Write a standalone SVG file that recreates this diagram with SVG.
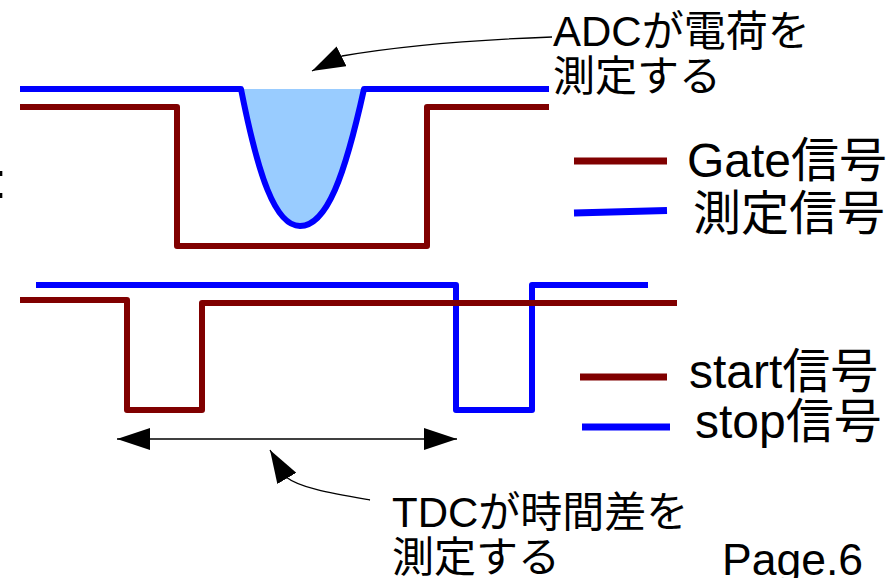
<svg xmlns="http://www.w3.org/2000/svg" width="886" height="578" viewBox="0 0 886 578">
<style>
.sig{fill:none;stroke-width:6;stroke-linejoin:round;stroke-linecap:butt}
.gate{stroke:#800000}
.meas{stroke:#0000ff}
.leg{fill:none;stroke-width:7;stroke-linecap:butt}
.lab{font-family:"Liberation Sans","Noto Sans CJK JP",sans-serif;fill:#000}
.lg{font-size:48px}
.nt{font-size:42px}
.call{fill:none;stroke:#000;stroke-width:1.3}
</style>
<defs>
<marker id="ah" viewBox="0 0 33 22" refX="33" refY="11" markerWidth="33" markerHeight="22" markerUnits="userSpaceOnUse" orient="auto-start-reverse"><path d="M0,0L33,11L0,22z" fill="#000"/></marker>
</defs>
<rect width="886" height="578" fill="#fff"/>
<g id="adc-panel">
<path fill="#99ccff" d="M241,89 C258,175 275,226 300,226 C327,226 345,175 364,89 Z"/>
<path class="sig meas" d="M20,89 H241 C258,175 275,226 300,226 C327,226 345,175 364,89 H549"/>
<path class="sig gate" d="M20,107 H177 V246 H427 V107 H549"/>
</g>
<g id="tdc-panel">
<path class="sig meas" d="M36,285 H456 V410 H532 V285 H648"/>
<path class="sig gate" d="M20,300 H127 V410 H202 V303 H677"/>
</g>
<g id="legend-adc">
<line class="leg gate" x1="574" y1="161" x2="667" y2="161"/>
<line class="leg meas" x1="574" y1="213" x2="667" y2="210.5"/>
<text class="lab lg" x="687" y="177">Gate信号</text>
<text class="lab lg" x="693" y="230">測定信号</text>
</g>
<g id="legend-tdc">
<line class="leg gate" x1="580" y1="377" x2="667" y2="377"/>
<line class="leg meas" x1="582" y1="427" x2="670" y2="427" stroke-width="8"/>
<text class="lab lg" x="689" y="388">start信号</text>
<text class="lab lg" x="695" y="438">stop信号</text>
</g>
<g id="label-adc">
<text class="lab nt" x="553" y="46">ADCが電荷を</text>
<text class="lab nt" x="553" y="91">測定する</text>
</g>
<g id="label-tdc">
<text class="lab nt" x="392" y="527">TDCが時間差を</text>
<text class="lab nt" x="392" y="572">測定する</text>
</g>
<g id="page">
<text class="lab" x="722" y="575" font-size="44.5">Page.6</text>
<text class="lab" x="-7" y="198" font-size="50">:</text>
</g>
<g id="connectors">
<path class="call" d="M552,37 C470,40 400,46 342,56 L312,71" marker-end="url(#ah)"/>
<path class="call" d="M370,500 C330,493 300,488 286,477 L270,450" marker-end="url(#ah)"/>
<path class="call" d="M117,439 H268" marker-start="url(#ah)"/>
<path class="call" d="M268,439 H457" stroke="#666" marker-end="url(#ah)"/>
</g>
</svg>
